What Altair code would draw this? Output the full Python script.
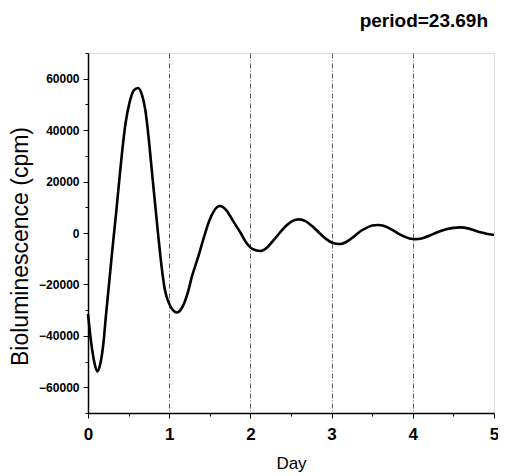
import altair as alt
import pandas as pd

# Values
days = [0.00, 0.04, 0.08, 0.113, 0.153, 0.19, 0.22, 0.26, 0.30, 0.342, 0.382, 0.423,
        0.463, 0.515, 0.564, 0.616, 0.664, 0.705, 0.745, 0.785, 0.825, 0.866, 0.906,
        0.946, 1.006, 1.095, 1.167, 1.228, 1.28, 1.35, 1.42, 1.49, 1.55, 1.62,
        1.70, 1.78, 1.88, 1.95, 2.03, 2.12, 2.20, 2.28, 2.36, 2.44, 2.52, 2.60,
        2.68, 2.76, 2.85, 2.93, 3.01, 3.10, 3.18, 3.27, 3.35, 3.43, 3.50, 3.57,
        3.65, 3.73, 3.81, 3.89, 3.96, 4.03, 4.12, 4.21, 4.30, 4.40, 4.50, 4.59,
        4.68, 4.77, 4.86, 4.94, 5.00]
values = [-31500, -42800, -50600, -53800, -50600, -42800, -32400, -19500, -6500, 6500,
          19500, 32400, 42800, 51200, 55500, 56400, 53800, 48000, 37600, 24600, 11700,
          -1300, -13000, -22000, -27900, -30900, -28500, -23300, -16900, -10000, -2500,
          4500, 8500, 10500, 9000, 5000, 0, -3800, -6300, -7000, -5800, -3000, 0, 2800,
          4700, 5300, 4600, 2700, 0, -2300, -3800, -4300, -3500, -1500, 600, 2000, 2900,
          3100, 2700, 1500, 0, -1300, -2100, -2400, -2000, -1000, 300, 1400, 2000, 2200,
          1800, 900, 100, -500, -800]

x_ticks = [0, 0.5, 1, 1.5, 2, 2.5, 3, 3.5, 4, 4.5, 5]
y_ticks = [-70000, -60000, -50000, -40000, -30000, -20000, -10000, 0, 10000, 20000,
           30000, 40000, 50000, 60000, 70000]
title_text = "period=23.69h"

df = pd.DataFrame({"day": days, "value": values})

FONT = "Liberation Sans"
W = 406

x_axis = alt.Axis(
    values=x_ticks,
    title="Day",
    labelExpr="datum.value % 1 === 0 ? format(datum.value, 'd') : ''",
    labelFont=FONT, labelFontSize=17, labelFontWeight="bold", labelColor="black",
    labelPadding=8, labelFlush=False,
    tickSize={"condition": {"test": "datum.value % 1 === 0", "value": 5}, "value": 3},
    tickColor="black", tickWidth=1,
    domainColor="black", domainWidth=1.5,
    grid=True,
    gridColor="#333333", gridWidth=0.8, gridDash=[5, 2, 1, 2],
    gridOpacity={"condition": {"test": "datum.value % 1 === 0 && datum.value > 0 && datum.value < 5", "value": 1}, "value": 0},
    titleFont=FONT, titleFontSize=17, titleFontWeight="normal", titleColor="black",
    titleX=W / 2, titleY=55, titleAlign="center", titleBaseline="alphabetic",
)

y_axis = alt.Axis(
    values=y_ticks,
    title="Bioluminescence (cpm)",
    labelExpr="datum.value % 20000 === 0 && abs(datum.value) < 70000 ? format(datum.value, 'd') : ''",
    labelFont=FONT, labelFontSize=12, labelFontWeight="bold", labelColor="black",
    labelPadding=4, labelFlush=False,
    tickSize={"condition": {"test": "datum.value % 20000 === 0", "value": 5}, "value": 3},
    tickColor="black", tickWidth=1,
    domainColor="black", domainWidth=1.5,
    grid=False,
    titleFont=FONT, titleFontSize=23, titleFontWeight="normal", titleColor="black",
    titleAngle=-90, titleX=-68, titleY=193, titleAlign="center", titleBaseline="middle",
)

chart = alt.Chart(df).mark_line(
    color="black", strokeWidth=2.6, interpolate="monotone"
).encode(
    x=alt.X("day:Q", scale=alt.Scale(domain=[0, 5], nice=False, zero=False), axis=x_axis),
    y=alt.Y("value:Q", scale=alt.Scale(domain=[-70000, 70000], nice=False), axis=y_axis),
).properties(
    width=W,
    height=360,
    title=alt.TitleParams(
        text=title_text, anchor="end", frame="group", font=FONT, fontSize=19,
        fontWeight="bold", color="black", dx=-6, offset=3, baseline="bottom",
    ),
    autosize=alt.AutoSizeParams(type="none"),
    padding={"left": 80, "top": 45, "right": 4, "bottom": 62},
).configure_view(stroke=None).configure(background="white")

chart.save("out.html", embed_options={"renderer": "svg", "actions": False})
